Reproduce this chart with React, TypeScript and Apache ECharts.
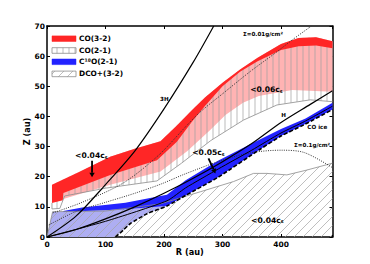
import React, { useEffect, useRef } from 'react';
import * as echarts from 'echarts';

const FONT = "'DejaVu Sans', 'Liberation Sans', sans-serif";

// axes
const xTickValues = [0, 100, 200, 300, 400];
const rMax = 488;
const zMax = 70;

// CO(3-2) solid band
const co32Top = [[8.5, 17.3], [60, 22.1], [108, 26.6], [150, 29.3], [194, 31.8], [222, 37], [248, 42.1], [270, 46.3], [300, 51.2], [330, 55.6], [360, 59.5], [400, 64], [430, 66], [460, 66.3], [488, 64.9]];
const co32Bottom = [[8.5, 11.3], [27, 12.2], [28, 14.6], [108, 20.6], [188, 25.5], [222, 31.6], [248, 38.3], [270, 43.5], [300, 50], [330, 54.8], [360, 58.3], [400, 62], [430, 63.3], [460, 63.5], [488, 62.6]];
// light red layer below CO(3-2)
const pinkTop = [[28, 14.6], [60, 22.1], [108, 26.6], [150, 29.3], [194, 31.8], [222, 37], [248, 42.1], [270, 46.3], [300, 51.2], [330, 55.6], [360, 59.5], [400, 64], [430, 66], [460, 66.3], [488, 64.9]];
const pinkBottom = [[28, 12.6], [108, 17.3], [194, 21.7], [240, 28.5], [279, 35.5], [305, 40.5], [335, 44.5], [362, 46.8], [419, 48.8], [488, 48.2]];
// CO(2-1) hatched layer (top = CO(3-2) top)
const co21Bottom = [[8.5, 9.3], [22, 9.5], [30, 13.6], [100, 16.2], [188, 18.6], [230, 24.5], [280, 32], [336, 38.8], [393, 43.8], [450, 45.5], [488, 44.9]];
// C18O(2-1)
const c18oTop = [[28, 8.6], [60, 9.8], [134, 11.4], [205, 14], [237, 18.8], [293, 25.4], [350, 31], [400, 35.8], [442, 39.3], [488, 44.5]];
const c18oBottom = [[28, 8.3], [134, 9.2], [205, 10.3], [237, 13.8], [293, 19.9], [365, 29.2], [400, 33.5], [439, 37.2], [488, 42.3]];
const c18oInner = [[0, 0], [9.6, 8.4], [28, 8.4], [134, 9.2], [205, 10.3], [190, 9.2], [171, 7.7], [142, 4.4], [130, 2.2], [117, 0]];
// DCO+(3-2)
const dcoTop = [[0, 0], [9.6, 8.4], [100, 8.6], [194, 11], [262, 15], [319, 18.4], [353, 21.1], [376, 21.1], [410, 20.6], [444, 22.2], [488, 24.5]];
const dcoBase = [[0, 0], [488, 0]];
// lines
const coIce = [[117, 0], [130, 2.2], [142, 4.4], [171, 7.7], [205, 10.3], [237, 13.8], [293, 19.9], [365, 29.2], [400, 33.5], [439, 37.2], [488, 42.3]];
const hLine = [[0, 0], [50, 2.5], [100, 6], [150, 10], [200, 14.5], [250, 19.5], [300, 25], [350, 31], [400, 38], [450, 44], [488, 48.5]];
const h3Line = [[0, 0], [50, 7], [100, 17.4], [150, 28.5], [200, 42.5], [250, 58], [285, 70]];
const midLine = [[0, 0], [100, 5.2], [205, 12], [237, 16.3], [293, 22.6], [350, 28.8], [400, 34.5], [440, 38.3], [488, 43.4]];
const sigma001 = [[10, 8], [60, 11.5], [131, 18], [190, 27], [239, 37], [262, 41.5], [300, 47.5], [348, 55], [390, 61], [420, 65.5], [452, 70]];
const sigma01 = [[3, 4], [50, 8.5], [100, 11.5], [150, 14.5], [194, 17.5], [237, 21], [300, 25.5], [350, 28], [400, 28.8], [440, 28], [488, 23]];

const legendNames = ['CO(3-2)', 'CO(2-1)', 'C¹⁸O(2-1)', 'DCO+(3-2)'];

const notes = [
  { text: '<0.04c', sub: 's', r: 75.7, z: 26.9 },
  { text: '<0.06c', sub: 's', r: 375, z: 48.8 },
  { text: '<0.05c', sub: 's', r: 276, z: 27.9 },
  { text: '<0.04c', sub: 's', r: 376.6, z: 5.6 },
  { text: '3H', r: 200.5, z: 45.8 },
  { text: 'H', r: 404.4, z: 40.5 },
  { text: 'CO ice', r: 462, z: 36.5 },
  { text: 'Σ=0.01g/cm²', r: 369, z: 67.4 },
  { text: 'Σ=0.1g/cm²', r: 453, z: 30.5 },
];
const arrows = [[77, 25.3, 77, 19.8], [276, 26.1, 288, 21.1]];

function svgPattern(w: number, h: number, body: string) {
  return {
    image: 'data:image/svg+xml;charset=utf-8,' + encodeURIComponent(`<svg xmlns="http://www.w3.org/2000/svg" width="${w}" height="${h}">${body}</svg>`),
    repeat: 'repeat',
    imageWidth: w,
    imageHeight: h,
  };
}
const vHatch = svgPattern(6, 6, '<line x1="3" y1="0" x2="3" y2="6" stroke="#9c9c9c" stroke-width="0.7"/>');
const dHatch = svgPattern(9, 9, '<path d="M-1,1 L1,-1 M0,9 L9,0 M8,10 L10,8" stroke="#a4a4a4" stroke-width="0.7" fill="none"/>');

const RED = '#ff2626';
const PINK = '#ffb3b3';
const BLUE = '#2222ff';
const LBLUE = '#aeaef2';

function region(id: string, pts: number[][], style: any, z: number) {
  return {
    id, type: 'custom', coordinateSystem: 'cartesian2d', z, silent: true, clip: true,
    data: [pts[0]], encode: { x: 0, y: 1 },
    renderItem: (_p: any, api: any) => ({
      type: 'polygon',
      shape: { points: pts.map((p) => api.coord(p)) },
      style,
    }),
  };
}
const band = (upper: number[][], lower: number[][]) => upper.concat(lower.slice().reverse());

function line(id: string, data: number[][], color: string, width: number, type: any, z: number, smooth: any = false) {
  return {
    id, type: 'line', data, showSymbol: false, symbol: 'none', smooth, silent: true, clip: true, z,
    lineStyle: { color, width, type },
  };
}

export default function App() {
  const ref = useRef<HTMLDivElement>(null);
  useEffect(() => {
    document.body.style.margin = '0';
    const chart = echarts.init(ref.current!, null, { renderer: 'svg' });
    const axisCommon = {
      axisLine: { show: true, onZero: false, lineStyle: { color: '#000', width: 1.5 } },
      axisTick: { show: true, inside: true, length: 3, lineStyle: { color: '#000', width: 1 } },
      splitLine: { show: false },
    };
    const labelStyle = { fontSize: 7.5, fontWeight: 'bold', fontFamily: FONT, color: '#000' };
    const rowY = [38.7, 50.5, 61.8, 73.9];
    const patchStyles = [
      { fill: RED, stroke: RED, lineWidth: 0.5 },
      { fill: vHatch, stroke: '#8c8c8c', lineWidth: 0.8 },
      { fill: BLUE, stroke: BLUE, lineWidth: 0.5 },
      { fill: dHatch, stroke: '#8c8c8c', lineWidth: 0.8 },
    ];
    chart.setOption({
      animation: false,
      backgroundColor: '#fff',
      grid: { left: 47, right: 37.5, top: 26, bottom: 27 },
      xAxis: [
        {
          type: 'value', min: 0, max: rMax, interval: 100,
          name: 'R (au)', nameLocation: 'middle', nameGap: 11, nameMoveOverlap: false,
          nameTextStyle: { fontSize: 8.2, fontWeight: 'bold', fontFamily: FONT, color: '#000' },
          ...axisCommon,
          axisLabel: { ...labelStyle, margin: 3, formatter: (v: number) => (xTickValues.includes(v) ? String(v) : '') },
        },
        { type: 'value', position: 'top', min: 0, max: rMax, interval: 100, ...axisCommon, axisLabel: { show: false } },
      ],
      yAxis: [
        {
          type: 'value', min: 0, max: zMax, interval: 10,
          name: 'Z (au)', nameLocation: 'middle', nameGap: 16, nameRotate: 90, nameMoveOverlap: false,
          nameTextStyle: { fontSize: 8.2, fontWeight: 'bold', fontFamily: FONT, color: '#000' },
          ...axisCommon,
          axisLabel: { ...labelStyle, margin: 2 },
        },
        { type: 'value', position: 'right', min: 0, max: zMax, interval: 10, ...axisCommon, axisLabel: { show: false } },
      ],
      graphic: [
        ...legendNames.map((_n, i) => ({
          type: 'rect', shape: { x: 52, y: rowY[i] - 2.8, width: 24, height: 5.6 }, style: patchStyles[i], z: 100,
        })),
        ...legendNames.map((n, i) => ({
          type: 'text', x: 79, y: rowY[i], z: 100,
          style: { text: n, fontSize: 7.4, fontWeight: 'bold', fontFamily: FONT, fill: '#000', verticalAlign: 'middle', textVerticalAlign: 'middle' },
        })),
      ],
      series: [
        region('pink', band(pinkTop, pinkBottom), { fill: PINK }, 1),
        region('co21', band(co32Top, co21Bottom), { fill: vHatch }, 2),
        region('co32', band(co32Top, co32Bottom), { fill: RED }, 3),
        region('c18oInner', c18oInner, { fill: LBLUE }, 4),
        region('dco', band(dcoTop, dcoBase), { fill: dHatch }, 5),
        region('c18o', band(c18oTop, c18oBottom), { fill: BLUE }, 6),
        line('co21edge', [[8.5, 11.3], ...co21Bottom], '#8c8c8c', 0.8, 'solid', 7),
        line('dcoedge', dcoTop, '#8c8c8c', 0.8, 'solid', 7),
        line('sigma001', sigma001, '#333', 1, [1, 1.3], 8, 0.3),
        line('sigma01', sigma01, '#333', 1, [1, 1.3], 8, 0.3),
        line('h3', h3Line, '#000', 1.2, 'solid', 9, 0.3),
        line('h', hLine, '#000', 1.2, 'solid', 9, 0.3),
        line('mid', midLine, '#000', 1, 'solid', 9, 0.2),
        line('coice', coIce, '#000', 1.6, [4, 2], 9, 0.2),
        {
          id: 'arrows', type: 'custom', coordinateSystem: 'cartesian2d', z: 20, silent: true, clip: false,
          data: arrows, encode: { x: [0, 2], y: [1, 3] },
          renderItem: (_p: any, api: any) => {
            const p1 = api.coord([api.value(0), api.value(1)]);
            const p2 = api.coord([api.value(2), api.value(3)]);
            const dx = p2[0] - p1[0], dy = p2[1] - p1[1];
            const len = Math.hypot(dx, dy) || 1;
            const ux = dx / len, uy = dy / len;
            const hl = 4.5, hw = 2.7;
            const bx = p2[0] - ux * hl, by = p2[1] - uy * hl;
            return {
              type: 'group',
              children: [
                { type: 'line', shape: { x1: p1[0], y1: p1[1], x2: bx, y2: by }, style: { stroke: '#000', lineWidth: 1.8 } },
                { type: 'polygon', shape: { points: [[p2[0], p2[1]], [bx - uy * hw, by + ux * hw], [bx + uy * hw, by - ux * hw]] }, style: { fill: '#000' } },
              ],
            };
          },
        },
        {
          id: 'notes', type: 'custom', coordinateSystem: 'cartesian2d', z: 21, silent: true, clip: false,
          data: notes.map((n) => [n.r, n.z]), encode: { x: 0, y: 1 },
          renderItem: (params: any, api: any) => {
            const n = notes[params.dataIndex];
            const c = api.coord([n.r, n.z]);
            const big = !!n.sub;
            return {
              type: 'text', x: c[0], y: c[1],
              style: {
                text: big ? `{m|${n.text}}{s|${n.sub}}` : n.text,
                rich: big ? {
                  m: { fontSize: 7.6, fontWeight: 'bold', fontFamily: FONT, fill: '#000', color: '#000' },
                  s: { fontSize: 4.8, fontWeight: 'bold', fontFamily: FONT, fill: '#000', color: '#000', verticalAlign: 'bottom' },
                } : undefined,
                fontSize: big ? 7.6 : 5.6, fontWeight: 'bold', fontFamily: FONT, fill: '#000',
                align: 'center', verticalAlign: 'middle', textAlign: 'center', textVerticalAlign: 'middle',
              },
            };
          },
        },
      ],
    });
    return () => chart.dispose();
  }, []);
  return <div ref={ref} style={{ width: 370, height: 264 }} />;
}
